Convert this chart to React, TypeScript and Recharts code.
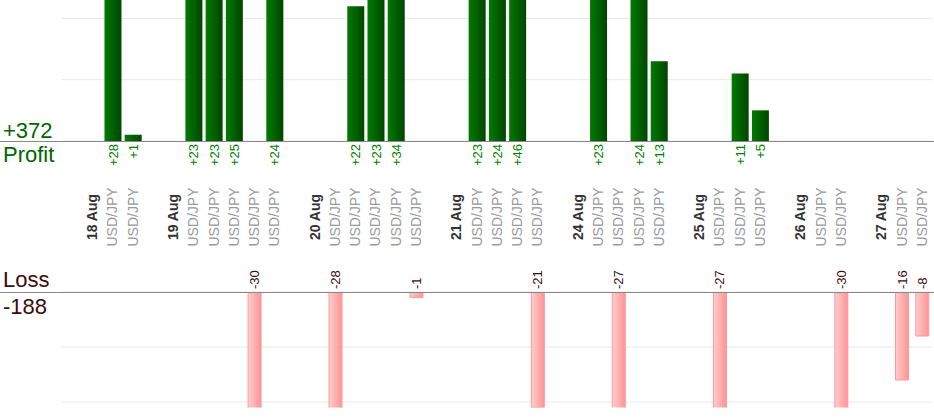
import React from "react";
import { BarChart, Bar, XAxis, YAxis, CartesianGrid, LabelList } from "recharts";

// Category slots (blank strings are spacing slots between days)
const slotLabels: string[] = [
  "",
  "18 Aug", "USD/JPY", "USD/JPY",
  "",
  "19 Aug", "USD/JPY", "USD/JPY", "USD/JPY", "USD/JPY", "USD/JPY",
  "",
  "20 Aug", "USD/JPY", "USD/JPY", "USD/JPY", "USD/JPY", "USD/JPY",
  "",
  "21 Aug", "USD/JPY", "USD/JPY", "USD/JPY", "USD/JPY",
  "",
  "24 Aug", "USD/JPY", "USD/JPY", "USD/JPY", "USD/JPY",
  "",
  "25 Aug", "USD/JPY", "USD/JPY", "USD/JPY",
  "",
  "26 Aug", "USD/JPY", "USD/JPY",
  "",
  "27 Aug", "USD/JPY", "USD/JPY",
];

const profitValues: (number | null)[] = [
  null,
  null, 28, 1,
  null,
  null, 23, 23, 25, null, 24,
  null,
  null, null, 22, 23, 34, null,
  null,
  null, 23, 24, 46, null,
  null,
  null, 23, null, 24, 13,
  null,
  null, null, 11, 5,
  null,
  null, null, null,
  null,
  null, null, null,
];

const lossValues: (number | null)[] = [
  null,
  null, null, null,
  null,
  null, null, null, null, -30, null,
  null,
  null, -28, null, null, null, -1,
  null,
  null, null, null, null, -21,
  null,
  null, null, -27, null, null,
  null,
  null, -27, null, null,
  null,
  null, null, -30,
  null,
  null, -16, -8,
];

const profitTicks = [0, 10, 20];
const lossTicks = [-20, -10, 0];

const rows = slotLabels.map((label, i) => ({
  slot: i,
  label,
  profit: profitValues[i],
  loss: lossValues[i],
}));

const totalProfit = profitValues.reduce((s: number, v) => s + (v ?? 0), 0);
const totalLoss = lossValues.reduce((s: number, v) => s + (v ?? 0), 0);

const FONT = "Arial, 'Liberation Sans', Helvetica, sans-serif";

const EmptyTick = () => <g />;

const CategoryTick = (props: any) => {
  const { x, y, payload } = props;
  const label = slotLabels[payload.value] ?? "";
  if (!label) return null;
  const isPair = label === "USD/JPY";
  const cy = y + 76;
  return (
    <text
      x={x}
      y={cy}
      dy="0.35em"
      textAnchor="middle"
      transform={`rotate(-90, ${x}, ${cy})`}
      fontFamily={FONT}
      fontSize={14}
      fontWeight={isPair ? "normal" : "bold"}
      fill={isPair ? "#9a9a9a" : "#333333"}
    >
      {label}
    </text>
  );
};

const getBox = (props: any) => {
  const vb = props.viewBox && typeof props.viewBox.x === "number" ? props.viewBox : props;
  return { x: vb.x as number, y: vb.y as number, w: vb.width as number, h: vb.height as number };
};

const ProfitLabel = (props: any) => {
  const { value } = props;
  if (value == null) return null;
  const { x, y, w, h } = getBox(props);
  const cx = x + w / 2;
  const base = Math.max(y, y + h) + 3;
  return (
    <text
      x={cx}
      y={base}
      dy="0.35em"
      textAnchor="end"
      transform={`rotate(-90, ${cx}, ${base})`}
      fontFamily={FONT}
      fontSize={13}
      fill="#008000"
    >
      {`+${value}`}
    </text>
  );
};

const LossLabel = (props: any) => {
  const { value } = props;
  if (value == null) return null;
  const { x, y, w, h } = getBox(props);
  const cx = x + w / 2;
  const base = Math.min(y, y + h) - 3;
  return (
    <text
      x={cx}
      y={base}
      dy="0.35em"
      textAnchor="start"
      transform={`rotate(-90, ${cx}, ${base})`}
      fontFamily={FONT}
      fontSize={13}
      fill="#3d0b0b"
    >
      {`${value}`}
    </text>
  );
};

export default function App() {
  return (
    <div
      style={{
        position: "absolute",
        left: 0,
        top: 0,
        width: 934,
        height: 420,
        overflow: "hidden",
        background: "#ffffff",
        fontFamily: FONT,
      }}
    >
      <div style={{ position: "absolute", left: 0, top: 0 }}>
        <BarChart
          width={934}
          height={260}
          data={rows}
          margin={{ top: 0, right: 2, bottom: 0, left: 62 }}
          barCategoryGap={0}
        >
          <defs>
            <linearGradient id="gradGreen" x1="0" y1="0" x2="1" y2="0">
              <stop offset="0%" stopColor="#027a02" />
              <stop offset="100%" stopColor="#004600" />
            </linearGradient>
          </defs>
          <CartesianGrid vertical={false} stroke="#e8e8e8" syncWithTicks />
          <XAxis
            dataKey="slot"
            type="category"
            interval={0}
            tickSize={0}
            tickMargin={0}
            axisLine={false}
            tickLine={false}
            height={119}
            tick={<CategoryTick />}
          />
          <YAxis
            domain={[0, 23]}
            ticks={profitTicks}
            interval={0}
            allowDataOverflow
            width={0}
            tick={EmptyTick}
            axisLine={false}
            tickLine={false}
          />
          <Bar dataKey="profit" fill="url(#gradGreen)" barSize={17} isAnimationActive={false}>
            <LabelList dataKey="profit" content={ProfitLabel} />
          </Bar>
        </BarChart>
      </div>

      <div style={{ position: "absolute", left: 0, top: 262 }}>
        <BarChart
          width={934}
          height={150}
          data={rows}
          margin={{ top: 30, right: 2, bottom: 4.5, left: 62 }}
          barCategoryGap={0}
        >
          <defs>
            <linearGradient id="gradPink" x1="0" y1="0" x2="1" y2="0">
              <stop offset="0%" stopColor="#ffcdcd" />
              <stop offset="100%" stopColor="#ff9494" />
            </linearGradient>
          </defs>
          <CartesianGrid vertical={false} stroke="#e8e8e8" syncWithTicks />
          <XAxis dataKey="slot" type="category" hide />
          <YAxis
            domain={[-21, 0]}
            ticks={lossTicks}
            interval={0}
            allowDataOverflow
            width={0}
            tick={EmptyTick}
            axisLine={false}
            tickLine={false}
          />
          <Bar
            dataKey="loss"
            fill="url(#gradPink)"
            stroke="#ff9a9a"
            strokeWidth={1}
            barSize={13}
            isAnimationActive={false}
          >
            <LabelList dataKey="loss" content={LossLabel} />
          </Bar>
        </BarChart>
      </div>

      <svg
        width={934}
        height={420}
        style={{ position: "absolute", left: 0, top: 0, pointerEvents: "none" }}
      >
        <line x1={0} x2={934} y1={141.5} y2={141.5} stroke="#888888" strokeWidth={1} />
        <line x1={0} x2={934} y1={292.5} y2={292.5} stroke="#888888" strokeWidth={1} />
        <text x={3} y={138} fontFamily={FONT} fontSize={22} fill="#006600">
          {`+${totalProfit}`}
        </text>
        <text x={3} y={162} fontFamily={FONT} fontSize={22} fill="#006600">
          Profit
        </text>
        <text x={3} y={287} fontFamily={FONT} fontSize={22} fill="#3d0b0b">
          Loss
        </text>
        <text x={3} y={314} fontFamily={FONT} fontSize={22} fill="#3d0b0b">
          {`${totalLoss}`}
        </text>
      </svg>
    </div>
  );
}
